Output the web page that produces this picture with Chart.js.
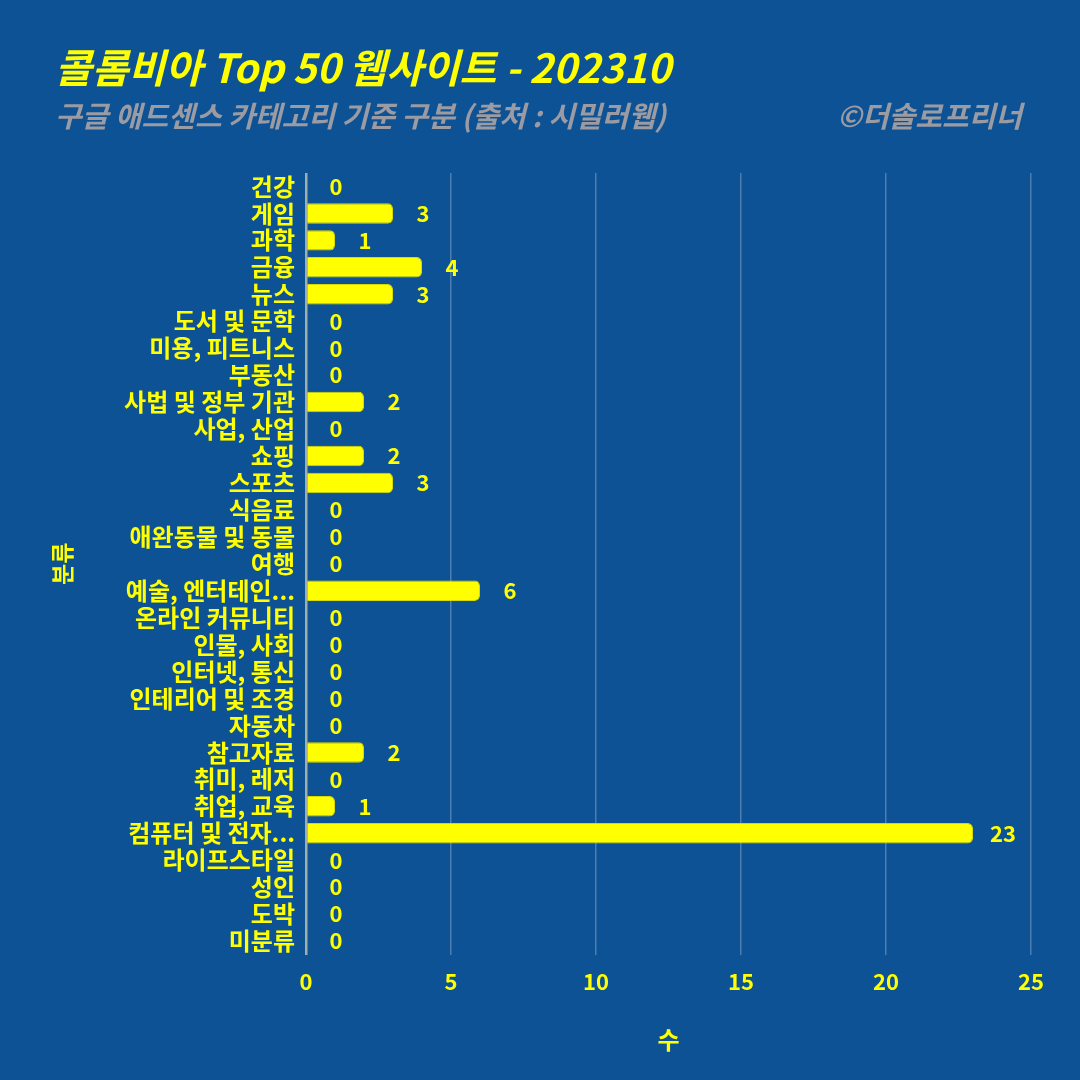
<!DOCTYPE html>
<html><head><meta charset="utf-8">
<script src="https://cdn.jsdelivr.net/npm/chart.js@4/dist/chart.umd.min.js"></script>
<style>html,body{margin:0;padding:0;background:#0d5294;}#wrap{width:1080px;height:1080px;}</style>
</head><body><div id="wrap"><canvas id="c" width="1080" height="1080"></canvas></div>
<script>
const categories = ["건강","게임","과학","금융","뉴스","도서 및 문학","미용, 피트니스","부동산","사법 및 정부 기관","사업, 산업","쇼핑","스포츠","식음료","애완동물 및 동물","여행","예술, 엔터테인...","온라인 커뮤니티","인물, 사회","인터넷, 통신","인테리어 및 조경","자동차","참고자료","취미, 레저","취업, 교육","컴퓨터 및 전자...","라이프스타일","성인","도박","미분류"];
const counts = [0,3,1,4,3,0,0,0,2,0,2,3,0,0,0,6,0,0,0,0,0,2,0,1,23,0,0,0,0];
const xTicks = [0,5,10,15,20,25];
const titleText = "콜롬비아 Top 50 웹사이트 - 202310";
const subtitleText = "구글 애드센스 카테고리 기준 구분 (출처 : 시밀러웹)";
const creditText = "©더솔로프리너";
const xTitle = "수";
const yTitle = "분류";

const FONT = "'Noto Sans CJK KR','Noto Sans',sans-serif";
const YEL = "#ffff00";

const headerPlugin = {
  id: 'header',
  afterDraw(chart) {
    const ctx = chart.ctx;
    ctx.save();
    ctx.textBaseline = 'middle';
    ctx.fillStyle = YEL;
    ctx.font = "italic bold 40px " + FONT;
    ctx.textAlign = 'left';
    ctx.fillText(titleText, 55, 68);
    ctx.fillStyle = "#9b9ba3";
    ctx.font = "italic bold 29px " + FONT;
    ctx.fillText(subtitleText, 55, 116);
    ctx.textAlign = 'right';
    ctx.fillText(creditText, 1022, 116);
    ctx.restore();
  }
};

const labelPlugin = {
  id: 'vlabels',
  afterDatasetsDraw(chart) {
    const ctx = chart.ctx;
    const meta = chart.getDatasetMeta(0);
    const xs = chart.scales.x;
    ctx.save();
    ctx.fillStyle = YEL;
    ctx.font = "bold 22px " + FONT;
    ctx.textAlign = 'center';
    ctx.textBaseline = 'middle';
    meta.data.forEach((bar, i) => {
      const v = counts[i];
      ctx.fillText(String(v), xs.getPixelForValue(v) + 30, bar.y);
    });
    ctx.restore();
  }
};

new Chart(document.getElementById('c'), {
  type: 'bar',
  data: {
    labels: categories,
    datasets: [{
      data: counts,
      backgroundColor: YEL,
      borderColor: '#d9d900',
      borderWidth: 1,
      borderRadius: 5,
      borderSkipped: 'start',
      barPercentage: 0.76,
      categoryPercentage: 1.0
    }]
  },
  options: {
    indexAxis: 'y',
    responsive: false,
    animation: false,
    devicePixelRatio: 1,
    layout: { padding: { top: 173, right: 49, left: 0, bottom: 0 } },
    plugins: { legend: { display: false }, tooltip: { enabled: false }, title: { display: false } },
    scales: {
      x: {
        min: 0, max: 25,
        afterBuildTicks(s) { s.ticks = xTicks.map(v => ({ value: v })); },
        afterFit(s) { s.height = 125.5; },
        grid: {
          drawTicks: false,
          color: ctx => ctx.tick && ctx.tick.value === 0 ? 'rgba(190,190,170,0.85)' : 'rgba(200,210,230,0.35)',
          lineWidth: ctx => ctx.tick && ctx.tick.value === 0 ? 2.5 : 1.5
        },
        border: { display: false },
        ticks: { color: YEL, font: { family: FONT, size: 22, weight: 'bold' }, padding: 14 },
        title: { display: true, text: xTitle, color: YEL, font: { family: FONT, size: 24, weight: 'bold' }, padding: { top: 0, bottom: 26 } }
      },
      y: {
        afterFit(s) { s.width = 306; },
        grid: { display: false, drawTicks: false },
        border: { display: false },
        ticks: { color: YEL, font: { family: FONT, size: 24, weight: 'bold' }, padding: 11, autoSkip: false },
        title: { display: true, text: yTitle, color: YEL, font: { family: FONT, size: 23, weight: 'bold' }, padding: { top: 48, bottom: 0 } }
      }
    }
  },
  plugins: [headerPlugin, labelPlugin]
});
</script></body></html>
